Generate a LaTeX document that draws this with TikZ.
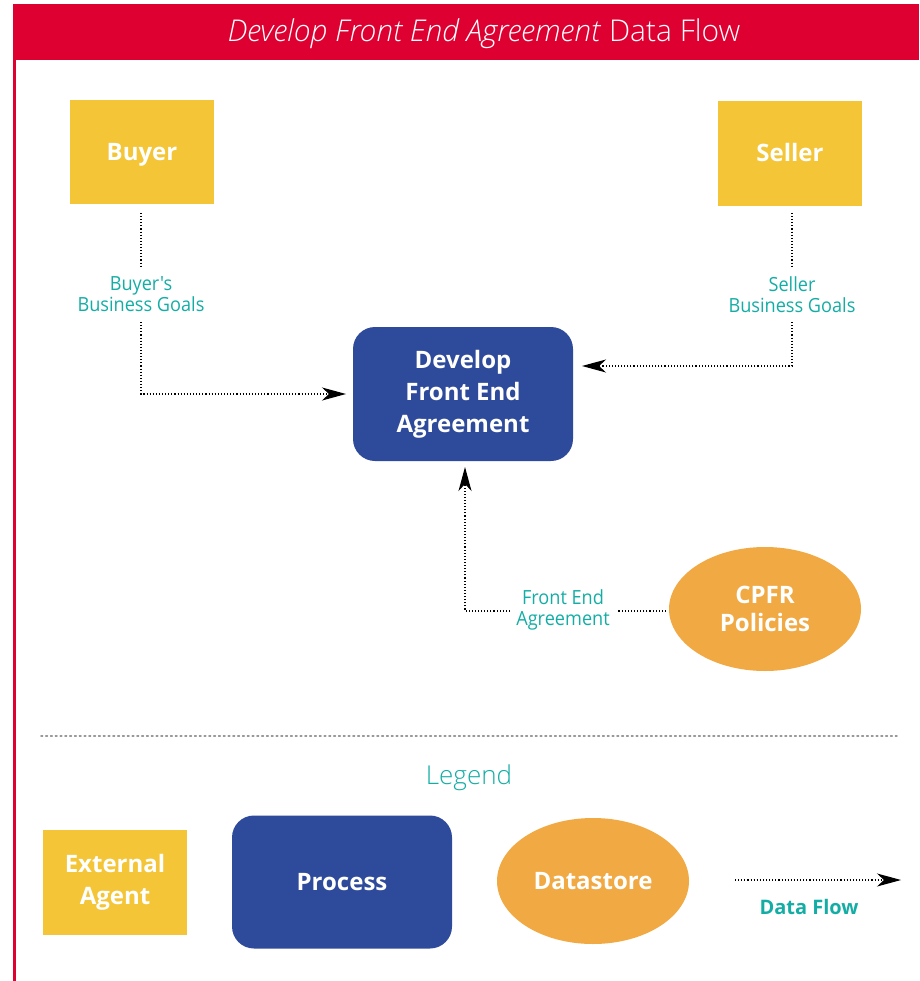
\documentclass[tikz,border=0pt]{standalone}
\usepackage{fontspec}
\setmainfont{Open Sans}
\newfontfamily\titlefont{Open Sans Light}
\newfontfamily\condfont[FakeStretch=0.93]{Open Sans}
\newfontfamily\boldfont{Open Sans Bold}
\usetikzlibrary{arrows.meta,shapes.geometric}
\definecolor{hdrred}{HTML}{DD0031}
\definecolor{agentyellow}{HTML}{F4C536}
\definecolor{procblue}{HTML}{2E4A9A}
\definecolor{storeorange}{HTML}{F1A943}
\definecolor{flowteal}{HTML}{14ADA5}
\tikzset{
  agent/.style={fill=agentyellow, draw=none, minimum width=144pt, minimum height=105pt,
    text=white, font=\boldfont\fontsize{24}{32}\selectfont, align=center},
  process/.style={fill=procblue, draw=none, rounded corners=22pt, minimum width=220pt,
    minimum height=134pt, text=white, font=\boldfont\fontsize{24}{32}\selectfont, align=center},
  store/.style={ellipse, fill=storeorange, draw=none, minimum width=192pt, minimum height=124pt,
    text=white, font=\boldfont\fontsize{24}{28}\selectfont, align=center, inner sep=0pt},
  flowlabel/.style={text=flowteal, font=\condfont\fontsize{19.5}{21}\selectfont, align=center, inner sep=0pt},
  flow/.style={black, line width=1.1pt, dotted, -{Stealth[length=24pt,width=13pt,inset=7pt]}},
  flowline/.style={black, line width=1.1pt, dotted},
}
\begin{document}
\begin{tikzpicture}[x=1pt,y=-1pt]
\useasboundingbox (0,0) rectangle (919,981);
% page frame: header band and left rule
\fill[hdrred] (13,4) rectangle (919,60);
\fill[hdrred] (13,60) rectangle (15.5,981);
\node[text=white, font=\titlefont\fontsize{30}{32}\selectfont, text depth=0pt] (title) at (484,30)
  {\textit{Develop Front End Agreement} Data Flow};

% agents, process and datastore
\node[agent, minimum height=104pt, text depth=0pt] (buyer) at (142,152) {Buyer};
\node[agent, text depth=1.5pt] (seller) at (790,153.5) {Seller};
\node[process] (dev) at (463,394) {Develop\\Front End\\Agreement};
\node[store] (cpfr) at (765,609) {CPFR\\Policies};

% flow labels
\node[flowlabel] (lbuyer) at (141,294) {Buyer's\\Business Goals};
\node[flowlabel] (lseller) at (792,295) {Seller\\Business Goals};
\node[flowlabel] (lfront) at (563,610) {Front End\\Agreement};

% data flows
\coordinate (bcorner) at (141,394);
\coordinate (scorner) at (792,366);
\coordinate (fcorner) at (465,611);
\draw[flowline] (141,213) -- (141,266);
\draw[flow] (141,322) -- (bcorner) -- (346,394);
\draw[flowline] (792,213) -- (792,268);
\draw[flow] (792,322) -- (scorner) -- (582,366);
\draw[flowline] (666,611) -- (618,611);
\draw[flow] (510,611) -- (fcorner) -- (465,467);

% separator
\draw[gray!80, line width=1.6pt, dash pattern=on 1.6pt off 3.2pt, line cap=round] (41,736) -- (898,736);

% legend
\node[text=flowteal, font=\titlefont\fontsize{26}{28}\selectfont, text depth=0pt] (legend) at (469,775) {Legend};
\node[agent, minimum height=105pt] (lagent) at (115,882) {External\\Agent};
\node[process, minimum height=133pt] (lproc) at (342,882) {Process};
\node[store, minimum height=126pt] (lstore) at (593,881) {Datastore};
\coordinate (lfa) at (735,880);
\coordinate (lfb) at (901,880);
\draw[flow] (lfa) -- (lfb);
\node[text=flowteal, font=\boldfont\fontsize{20}{22}\selectfont] (lflow) at (809,907) {Data Flow};
\end{tikzpicture}
\end{document}
